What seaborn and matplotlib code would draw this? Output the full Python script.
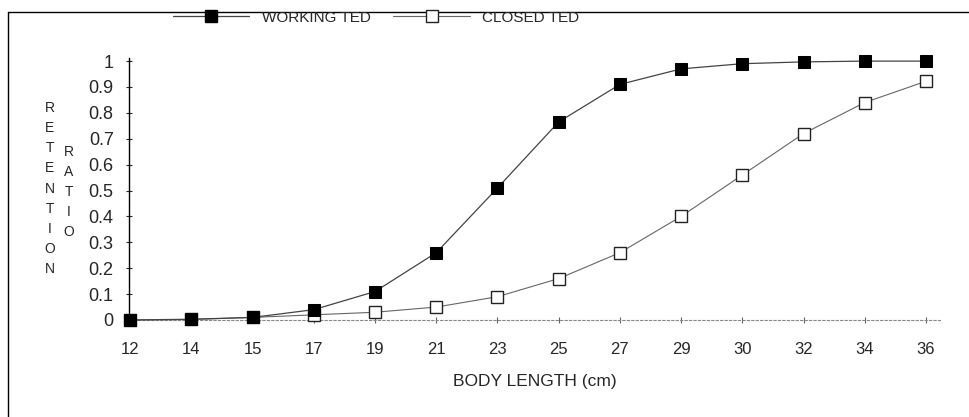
import matplotlib
matplotlib.use("Agg")
import matplotlib.pyplot as plt
import seaborn as sns
import pandas as pd
from matplotlib.lines import Line2D

# body length classes (cm) - evenly spaced on the chart
body_length = ["12", "14", "15", "17", "19", "21", "23", "25", "27", "29", "30", "32", "34", "36"]
working_ted = [0.0, 0.003, 0.01, 0.04, 0.11, 0.26, 0.51, 0.765, 0.91, 0.97, 0.99, 0.997, 1.0, 1.0]
closed_ted = [0.0, 0.002, 0.01, 0.02, 0.03, 0.05, 0.09, 0.16, 0.26, 0.40, 0.56, 0.72, 0.84, 0.922]
y_ticks = [0, 0.1, 0.2, 0.3, 0.4, 0.5, 0.6, 0.7, 0.8, 0.9, 1]
y_tick_labels = ["0", "0.1", "0.2", "0.3", "0.4", "0.5", "0.6", "0.7", "0.8", "0.9", "1"]

df = pd.DataFrame({
    "pos": list(range(len(body_length))) * 2,
    "ratio": working_ted + closed_ted,
    "series": ["WORKING TED"] * len(body_length) + ["CLOSED TED"] * len(body_length),
})

sns.set_style("white")
plt.rcParams["font.family"] = ["Liberation Sans", "DejaVu Sans"]

fig = plt.figure(figsize=(9.69, 4.17), dpi=100)
ax = fig.add_axes([129 / 969, 1 - 320 / 417, (940 - 129) / 969, (320 - 58) / 417])

work = df[df["series"] == "WORKING TED"]
closed = df[df["series"] == "CLOSED TED"]
sns.lineplot(data=closed, x="pos", y="ratio", ax=ax, color="#666666", lw=0.8,
             marker="s", markersize=9, markerfacecolor="white", markeredgecolor="#222222",
             markeredgewidth=1.0, clip_on=False, zorder=3)
sns.lineplot(data=work, x="pos", y="ratio", ax=ax, color="#444444", lw=0.9,
             marker="s", markersize=8, markerfacecolor="black", markeredgecolor="black",
             clip_on=False, zorder=4)

ax.set_xlim(-0.02, 13.23)
ax.set_ylim(0, 1.012)
ax.set_xticks(range(len(body_length)))
ax.set_xticklabels(body_length)
ax.set_yticks(y_ticks)
ax.set_yticklabels(y_tick_labels)
ax.tick_params(axis="y", direction="inout", length=4, width=0.8, pad=9, labelsize=13, left=True)
ax.tick_params(axis="x", direction="inout", length=4, width=0.8, pad=14, labelsize=12, bottom=True,
               color="#666666")
ax.set_xlabel("BODY LENGTH (cm)", fontsize=12.5, labelpad=12)
ax.set_ylabel("")

for s in ["top", "right"]:
    ax.spines[s].set_visible(False)
ax.spines["left"].set_color("black")
ax.spines["left"].set_linewidth(1.0)
ax.spines["bottom"].set_color("#888888")
ax.spines["bottom"].set_linewidth(0.8)
ax.spines["bottom"].set_linestyle((0, (2, 2)))

# stacked vertical axis titles
fig.text(50 / 969, 1 - 188.5 / 417, "\n".join("RETENTION"), ha="center", va="center",
         fontsize=10, linespacing=1.56)
fig.text(69 / 969, 1 - 192 / 417, "\n".join("RATIO"), ha="center", va="center",
         fontsize=10, linespacing=1.56)

# legend across the top
handles = [
    Line2D([], [], color="#444444", lw=0.9, marker="s", markersize=8, markerfacecolor="black",
           markeredgecolor="black"),
    Line2D([], [], color="#666666", lw=0.8, marker="s", markersize=8, markerfacecolor="white",
           markeredgecolor="#222222"),
]
fig.legend(handles, ["WORKING TED", "CLOSED TED"], loc="center", bbox_to_anchor=(376 / 969, 1 - 17.5 / 417),
           ncol=2, frameon=False, fontsize=11, handlelength=5, numpoints=1, columnspacing=1.5,
           handletextpad=0.8)

# scanned page frame
fig.add_artist(Line2D([8 / 969, 8 / 969], [0, 1 - 12 / 417], color="black", lw=1.0))
fig.add_artist(Line2D([8 / 969, 1], [1 - 12 / 417, 1 - 12 / 417], color="black", lw=1.0))

fig.savefig("out.png", dpi=100)
